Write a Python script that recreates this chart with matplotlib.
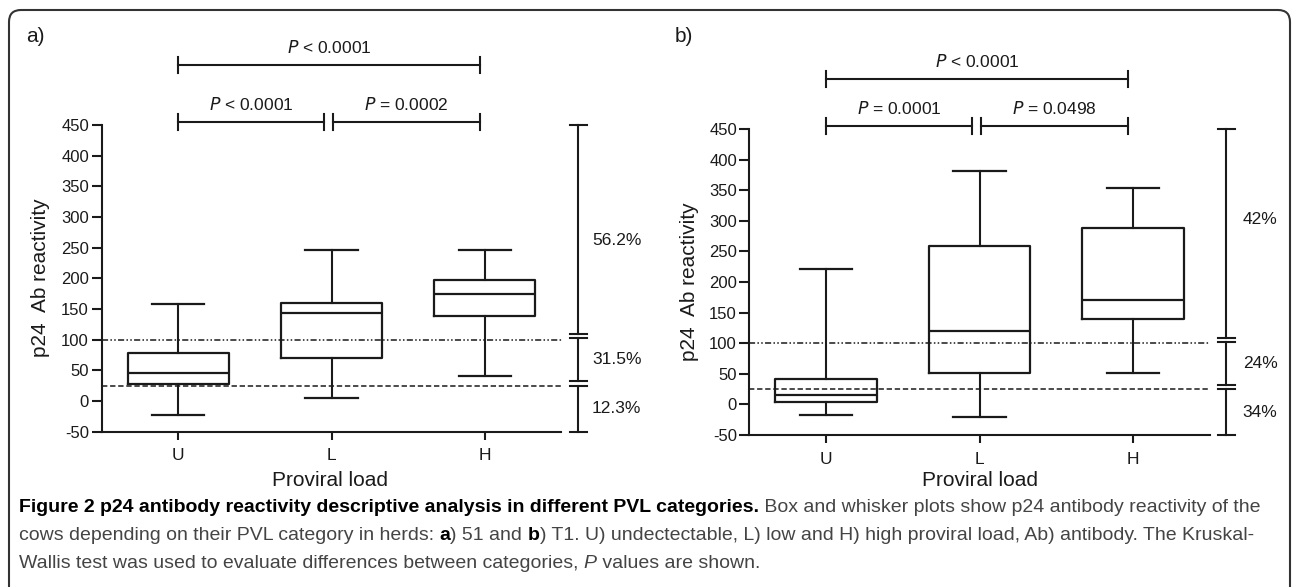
#p24 antibody reactivity box plots by PVL category (herds 51 and T1)
import matplotlib
matplotlib.use('Agg')
import matplotlib.pyplot as plt
from matplotlib import font_manager
from matplotlib.patches import FancyBboxPatch
from matplotlib.transforms import IdentityTransform

W, H = 1292, 587

categories = ['U', 'L', 'H']

#box stats: low whisker, q1, median, q3, high whisker
herd51_low = [-23, 5, 41]
herd51_q1 = [27, 70, 139]
herd51_med = [45, 143, 175]
herd51_q3 = [78, 160, 198]
herd51_high = [158, 246, 247]

herdT1_low = [-17.5, -20, 52]
herdT1_q1 = [4, 51, 139]
herdT1_med = [16, 120, 171]
herdT1_q3 = [42, 259, 288]
herdT1_high = [222, 382, 353]

#kruskal-wallis p values (U-L, L-H, U-H)
pvals_51 = ['< 0.0001', '= 0.0002', '< 0.0001']
pvals_T1 = ['= 0.0001', '= 0.0498', '< 0.0001']

#share of cows in each reactivity band (>100, 25-100, <25)
bands_51 = ['56.2%', '31.5%', '12.3%']
bands_T1 = ['42%', '24%', '34%']
band_y_51 = [262, 68, -12]
band_y_T1 = [302, 67, -14]

thresholds = [100, 25]

plt.rcParams['font.family'] = ['Liberation Sans', 'DejaVu Sans']
plt.rcParams['axes.unicode_minus'] = False
ink = '#1a1a1a'

fig = plt.figure(figsize=(W / 100, H / 100), dpi=100)


def make_stats(lo, q1, med, q3, hi):
    return [dict(whislo=lo[i], q1=q1[i], med=med[i], q3=q3[i], whishi=hi[i], fliers=[])
            for i in range(len(lo))]


def draw_panel(rect, stats, pvals, bands, band_y, pct_x, low_y, top_y):
    ax = fig.add_axes(rect)
    ax.bxp(stats, positions=[0, 1, 2], widths=0.66, capwidths=0.34, showfliers=False,
           manage_ticks=False,
           boxprops=dict(lw=1.6, color=ink), medianprops=dict(lw=1.6, color=ink),
           whiskerprops=dict(lw=1.5, color=ink), capprops=dict(lw=1.6, color=ink))
    ax.axhline(thresholds[0], color=ink, lw=1.1, ls=(0, (4, 1.5, 1, 1.5, 1, 1.5)))
    ax.axhline(thresholds[1], color=ink, lw=1.1, ls=(0, (3.5, 1.8)))
    ax.set_xlim(-0.5, 2.5)
    ax.set_ylim(-50, 450)
    ax.set_yticks(range(-50, 451, 50))
    ax.set_xticks([0, 1, 2])
    ax.set_xticklabels(categories, fontsize=12.5)
    ax.tick_params(axis='y', labelsize=12, length=7, width=1.5, pad=2, colors=ink)
    ax.tick_params(axis='x', length=6, width=1.5, pad=6, colors=ink)
    for s in ['top', 'right']:
        ax.spines[s].set_visible(False)
    for s in ['left', 'bottom']:
        ax.spines[s].set_linewidth(1.5)
        ax.spines[s].set_color(ink)

    #significance brackets above the boxes
    tick = 13
    spans = [(0, 0.95, low_y), (1.01, 1.97, low_y), (0, 1.97, top_y)]
    for (x0, x1, yb), p in zip(spans, pvals):
        ax.plot([x0, x1], [yb, yb], color=ink, lw=1.5, clip_on=False)
        ax.plot([x0, x0], [yb - tick, yb + tick], color=ink, lw=1.5, clip_on=False)
        ax.plot([x1, x1], [yb - tick, yb + tick], color=ink, lw=1.5, clip_on=False)
        ax.text((x0 + x1) / 2, yb + 29, '$P$ ' + p, ha='center', va='center',
                fontsize=12.5, color=ink, clip_on=False)

    #right hand bracket with breaks at the thresholds
    bx = 2.61
    segs = [(450, 109), (102, 32), (25, -50)]
    for y0, y1 in segs:
        ax.plot([bx, bx], [y0, y1], color=ink, lw=1.5, clip_on=False)
    for yy in [450, -50, 109, 102, 32, 25]:
        ax.plot([bx - 0.055, bx + 0.055], [yy, yy], color=ink, lw=1.5, clip_on=False)
    for lab, yy in zip(bands, band_y):
        ax.text(pct_x, yy, lab, ha='center', va='center', fontsize=12.5, color=ink,
                clip_on=False)
    return ax


ax_a = draw_panel([101.5 / W, (H - 431.7) / H, 460 / W, 306.7 / H],
                  make_stats(herd51_low, herd51_q1, herd51_med, herd51_q3, herd51_high),
                  pvals_51, bands_51, band_y_51, 2.86, 455, 548)
ax_b = draw_panel([749.4 / W, (H - 435) / H, 460.2 / W, 306 / H],
                  make_stats(herdT1_low, herdT1_q1, herdT1_med, herdT1_q3, herdT1_high),
                  pvals_T1, bands_T1, band_y_T1, 2.83, 455, 532)

#axis titles placed by pixel
for xc, yc in [(41, 278), (690, 282)]:
    fig.text(xc / W, 1 - yc / H, 'p24  Ab reactivity', rotation=90, ha='center', va='center',
             fontsize=15, color=ink)
for xc in [330, 980]:
    fig.text(xc / W, 1 - 481 / H, 'Proviral load', ha='center', va='center', fontsize=15,
             color=ink)
fig.text(26 / W, 1 - 36 / H, 'a)', ha='left', va='center', fontsize=15, color=ink)
fig.text(675 / W, 1 - 36 / H, 'b)', ha='left', va='center', fontsize=15, color=ink)

#rounded frame, open at the bottom
frame = FancyBboxPatch((9, -30), 1281, H - 10 + 30, boxstyle='round,pad=0,rounding_size=12',
                       transform=IdentityTransform(), fill=False, lw=1.5, ec='#333333')
fig.add_artist(frame)

#caption, drawn piece by piece so bold/italic runs line up
names = {f.name for f in font_manager.fontManager.ttflist}
capfont = 'Liberation Sans Narrow' if 'Liberation Sans Narrow' in names else 'Liberation Sans'
capsize = 14
grey = '#444444'
renderer = fig.canvas.get_renderer()

caption = [
    [('Figure 2 p24 antibody reactivity descriptive analysis in different PVL categories.', 'bold', 'normal', 'k'),
     (' Box and whisker plots show p24 antibody reactivity of the', 'normal', 'normal', grey)],
    [('cows depending on their PVL category in herds: ', 'normal', 'normal', grey),
     ('a', 'bold', 'normal', 'k'), (') 51 and ', 'normal', 'normal', grey),
     ('b', 'bold', 'normal', 'k'),
     (') T1. U) undectectable, L) low and H) high proviral load, Ab) antibody. The Kruskal-', 'normal', 'normal', grey)],
    [('Wallis test was used to evaluate differences between categories, ', 'normal', 'normal', grey),
     ('P', 'normal', 'italic', grey), (' values are shown.', 'normal', 'normal', grey)],
]
line_y = [507, 535, 563]
for parts, yl in zip(caption, line_y):
    x = 19
    for txt, wt, st, col in parts:
        t = fig.text(x / W, 1 - yl / H, txt, ha='left', va='center', fontsize=capsize,
                     family=capfont, weight=wt, style=st, color=col)
        x += t.get_window_extent(renderer).width

fig.savefig('out.png', dpi=100)
